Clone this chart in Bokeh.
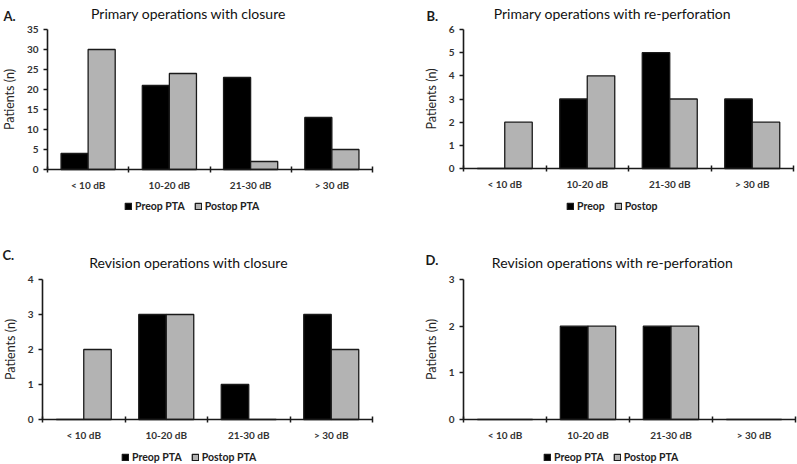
import numpy as np
from bokeh.plotting import figure
from bokeh.layouts import gridplot
from bokeh.models import FixedTicker, Legend, LegendItem, Label, Range1d, LinearAxis
from bokeh.embed import file_html
from bokeh.resources import INLINE

FONT = "Lato"

categories = ["< 10 dB", "10-20 dB", "21-30 dB", "> 30 dB"]

a_preop = [4, 21, 23, 13]
a_postop = [30, 24, 2, 5]
b_preop = [0, 3, 5, 3]
b_postop = [2, 4, 3, 2]
c_preop = [0, 3, 1, 3]
c_postop = [2, 3, 0, 2]
d_preop = [0, 2, 2, 0]
d_postop = [0, 2, 2, 0]

titles = ["Primary operations with closure", "Primary operations with re-perforation",
          "Revision operations with closure", "Revision operations with re-perforation"]
letters = ["A.", "B.", "C.", "D."]
y_max = [35, 6, 4, 3]
y_step = [5, 1, 1, 1]
legend_pre = ["Preop PTA", "Preop", "Preop PTA", "Preop PTA"]
legend_post = ["Postop PTA", "Postop", "Postop PTA", "Postop PTA"]
y_label = "Patients (n)"

GRAY = "#b3b3b3"
DARK = "#1a1a1a"


def panel(i, preop, postop, W, H, L, R, T, B, let_dx, let_dy, tit_dx, tit_dy, leg_x, leg_y):
    ymax = y_max[i]
    ncat = len(categories)
    sx = (W - L - R) / ncat
    sy = (H - T - B) / ymax
    p = figure(width=W, height=H, output_backend="svg", toolbar_location=None,
               x_range=Range1d(-L / sx, ncat + R / sx),
               y_range=Range1d(-B / sy, ymax + T / sy),
               x_axis_location=None, y_axis_location=None,
               min_border=0)
    p.min_border_left = 0
    p.min_border_right = 0
    p.min_border_top = 0
    p.min_border_bottom = 0
    p.grid.visible = False
    p.outline_line_color = None
    p.background_fill_color = "white"
    p.border_fill_color = "white"

    idx = np.arange(ncat)
    r1 = p.vbar(x=idx + 1 / 3, top=preop, width=1 / 3, fill_color="black",
                line_color=DARK, line_width=1.3)
    r2 = p.vbar(x=idx + 2 / 3, top=postop, width=1 / 3, fill_color=GRAY,
                line_color=DARK, line_width=1.3)

    xa = LinearAxis(fixed_location=0, bounds=(0, ncat))
    xa.ticker = FixedTicker(ticks=list(idx + 0.5), minor_ticks=list(range(ncat + 1)))
    xa.major_label_overrides = {float(k + 0.5): c for k, c in enumerate(categories)}
    xa.major_tick_in = 0
    xa.major_tick_out = 0
    xa.minor_tick_in = 3
    xa.minor_tick_out = 3
    xa.minor_tick_line_color = DARK
    xa.minor_tick_line_width = 1.5
    xa.axis_line_color = DARK
    xa.axis_line_width = 1.6
    xa.major_label_standoff = 6
    xa.major_label_text_font = FONT
    xa.major_label_text_font_style = "bold"
    xa.major_label_text_font_size = "10px"
    xa.major_label_text_color = "#333333"
    p.add_layout(xa, "below")

    ya = LinearAxis(fixed_location=0, bounds=(0, ymax))
    ya.ticker = FixedTicker(ticks=list(range(0, ymax + 1, y_step[i])))
    ya.major_tick_in = 0
    ya.major_tick_out = 4
    ya.major_tick_line_color = DARK
    ya.major_tick_line_width = 1.3
    ya.minor_tick_line_color = None
    ya.axis_line_color = DARK
    ya.axis_line_width = 1.6
    ya.major_label_standoff = 5
    ya.major_label_text_font = FONT
    ya.major_label_text_font_style = "bold"
    ya.major_label_text_font_size = "10px"
    ya.major_label_text_color = "#333333"
    ya.axis_label = y_label
    ya.axis_label_text_font = FONT
    ya.axis_label_text_font_style = "normal"
    ya.axis_label_text_font_size = "12.5px"
    ya.axis_label_text_color = "#262626"
    ya.axis_label_standoff = 7
    p.add_layout(ya, "left")

    p.add_layout(Label(x=0, y=ymax, x_offset=let_dx, y_offset=let_dy, text=letters[i],
                       text_font=FONT, text_font_style="bold", text_font_size="13px",
                       text_color=DARK, text_align="left", text_baseline="alphabetic"))
    p.add_layout(Label(x=0, y=ymax, x_offset=tit_dx, y_offset=tit_dy, text=titles[i],
                       text_font=FONT, text_font_style="normal", text_font_size="14px",
                       text_color="#111111", text_align="center", text_baseline="alphabetic"))

    legend = Legend(items=[LegendItem(label=legend_pre[i], renderers=[r1]),
                           LegendItem(label=legend_post[i], renderers=[r2])],
                    orientation="horizontal", location=(leg_x, leg_y),
                    glyph_width=8, glyph_height=8, label_standoff=3, spacing=9,
                    padding=2, margin=0, border_line_color=None,
                    background_fill_alpha=0,
                    label_text_font=FONT, label_text_font_style="bold",
                    label_text_font_size="10.5px", label_text_color="#222222",
                    label_height=10)
    p.add_layout(legend, "center")
    return p


pa = panel(0, a_preop, a_postop, 398, 230, 47, 26, 29, 61, -44, 14, 141, 16, 124, 18)
pb = panel(1, b_preop, b_postop, 399, 230, 65, 4, 29, 62, -37, 14, 149, 16, 168, 18)
pc = panel(2, c_preop, c_postop, 398, 234, 42, 26, 49, 45, -40, 25, 146, 17, 121, 1)
pd = panel(3, d_preop, d_postop, 399, 234, 65, 2, 49, 45, -38, 20, 149, 17, 145, 1)

grid = gridplot([[pa, pb], [pc, pd]], toolbar_location=None)

open("out.html", "w").write(file_html(grid, INLINE))
